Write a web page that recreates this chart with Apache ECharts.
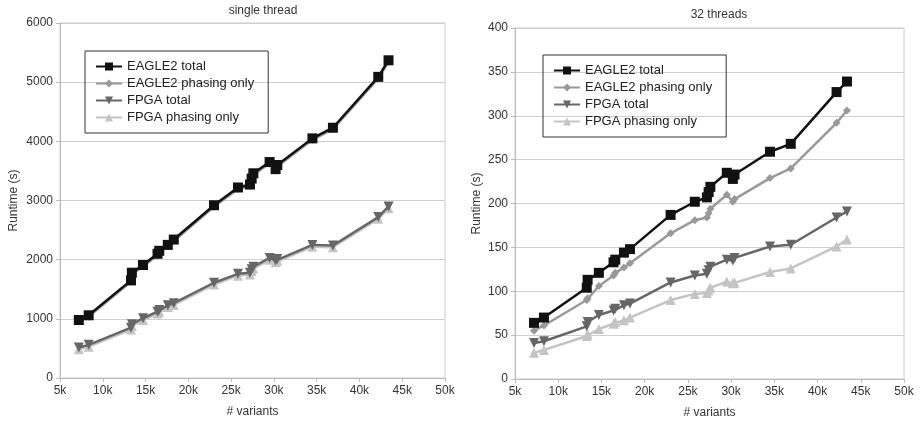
<!DOCTYPE html>
<html>
<head>
<meta charset="utf-8">
<script src="https://cdn.jsdelivr.net/npm/echarts@6/dist/echarts.min.js"></script>
<style>
html, body { margin: 0; padding: 0; background: #fff; }
#main { width: 920px; height: 424px; }
</style>
</head>
<body>
<div id="main"></div>
<script>
// # variants, shared by both panels
var variants = [7200, 8350, 13300, 13400, 14700, 16400, 16600, 17600, 18300, 23000, 25800,
    27200, 27400, 27600, 29500, 30200, 30400, 34500, 36900, 42200, 43400];

var seriesNames = ['EAGLE2 total', 'EAGLE2 phasing only', 'FPGA total', 'FPGA phasing only'];

// single thread runtimes (s)
var singleEagleTotal = [980, 1060, 1650, 1780, 1910, 2100, 2150, 2250, 2340, 2920, 3220, 3270, 3370, 3460, 3650, 3530, 3600, 4050, 4230, 5090, 5370];
var singleEaglePhasing = [955, 1040, 1625, 1755, 1885, 2075, 2125, 2225, 2315, 2895, 3195, 3245, 3345, 3435, 3625, 3505, 3575, 4025, 4205, 5065, 5345];
var singleFpgaTotal = [516, 560, 850, 910, 1010, 1120, 1150, 1230, 1265, 1610, 1760, 1780, 1840, 1880, 2030, 1985, 2010, 2250, 2240, 2720, 2900];
var singleFpgaPhasing = [486, 530, 820, 880, 980, 1090, 1120, 1200, 1235, 1580, 1730, 1750, 1810, 1850, 2000, 1955, 1980, 2220, 2210, 2690, 2870];

// 32 threads runtimes (s)
var multiEagleTotal = [64, 70, 104, 113, 121, 133, 136, 144, 148, 187, 202, 207, 213, 219, 235, 228, 233, 259, 268, 327, 339];
var multiEaglePhasing = [55, 61, 90, 92, 106, 118, 121, 127, 132, 166, 181, 184, 189, 194, 210, 202, 205, 229, 240, 292, 306];
var multiFpgaTotal = [41, 43, 60, 65, 73, 78, 80, 84, 86, 110, 118, 120, 124, 128, 136, 135, 138, 151, 153, 184, 191];
var multiFpgaPhasing = [30, 33, 49, 51, 57, 63, 65, 67, 70, 90, 97, 98, 101, 104, 111, 109, 110, 122, 126, 151, 159];

var styles = [
    { color: '#111111', symbol: 'rect', size: 10, rotate: 0 },
    { color: '#999999', symbol: 'diamond', size: 8, rotate: 0 },
    { color: '#666666', symbol: 'triangle', size: 10, rotate: 180 },
    { color: '#c4c4c4', symbol: 'triangle', size: 10, rotate: 0 }
];

function pairs(ys) {
    return variants.map(function (x, i) { return [x, ys[i]]; });
}

function makeSeries(idx, lists) {
    return lists.map(function (ys, i) {
        var s = styles[i];
        return {
            name: seriesNames[i],
            type: 'line',
            xAxisIndex: idx,
            yAxisIndex: idx,
            data: pairs(ys),
            symbol: s.symbol,
            symbolSize: s.size,
            symbolRotate: s.rotate,
            showAllSymbol: true,
            lineStyle: { color: s.color, width: 2.5 },
            itemStyle: { color: s.color },
            emphasis: { disabled: true },
            z: 10 - i
        };
    });
}

var font = 'Liberation Sans, Arial, sans-serif';

function xAxis(idx) {
    return {
        type: 'value',
        gridIndex: idx,
        min: 5000, max: 50000, interval: 5000,
        name: '# variants',
        nameLocation: 'middle',
        nameGap: 28,
        nameTextStyle: { color: '#333', fontSize: 12, fontFamily: font },
        axisLine: { lineStyle: { color: '#bbb' } },
        axisTick: { show: true, length: 4, lineStyle: { color: '#bbb' } },
        axisLabel: { color: '#333', fontSize: 12, fontFamily: font, margin: 7,
            formatter: function (v) { return (v / 1000) + 'k'; } },
        splitLine: { show: false }
    };
}

function yAxis(idx, max, interval, gap) {
    return {
        type: 'value',
        gridIndex: idx,
        min: 0, max: max, interval: interval,
        name: 'Runtime (s)',
        nameLocation: 'middle',
        nameGap: gap,
        nameTextStyle: { color: '#333', fontSize: 12, fontFamily: font },
        axisLine: { show: true, lineStyle: { color: '#bbb' } },
        axisTick: { show: true, length: 4, lineStyle: { color: '#bbb' } },
        axisLabel: { color: '#333', fontSize: 12, fontFamily: font, margin: 7,
            formatter: function (v) { return String(v); } },
        splitLine: { lineStyle: { color: '#cfcfcf' } }
    };
}

function legend(left, top) {
    return {
        left: left, top: top,
        orient: 'vertical',
        data: seriesNames,
        itemWidth: 26, itemHeight: 10, itemGap: 2,
        padding: [8, 14, 8, 10],
        borderColor: '#333', borderWidth: 1,
        textStyle: { color: '#222', fontSize: 13, fontFamily: font, lineHeight: 15 },
        selectedMode: false
    };
}

var chart = echarts.init(document.getElementById('main'));
chart.setOption({
    animation: false,
    backgroundColor: '#fff',
    title: [
        { text: 'single thread', left: 258, top: 0, textAlign: 'center',
          textStyle: { color: '#333', fontSize: 12, fontWeight: 'normal', fontFamily: font } },
        { text: '32 threads', left: 714, top: 4, textAlign: 'center',
          textStyle: { color: '#333', fontSize: 12, fontWeight: 'normal', fontFamily: font } }
    ],
    legend: [legend(85, 51), legend(543, 55)],
    grid: [
        { left: 60, right: 475, top: 23, bottom: 46, show: true, borderColor: '#ccc', borderWidth: 1 },
        { left: 515, right: 16, top: 28, bottom: 45, show: true, borderColor: '#ccc', borderWidth: 1 }
    ],
    xAxis: [xAxis(0), xAxis(1)],
    yAxis: [yAxis(0, 6000, 1000, 40), yAxis(1, 400, 50, 32)],
    series: makeSeries(0, [singleEagleTotal, singleEaglePhasing, singleFpgaTotal, singleFpgaPhasing])
        .concat(makeSeries(1, [multiEagleTotal, multiEaglePhasing, multiFpgaTotal, multiFpgaPhasing]))
});
</script>
</body>
</html>
